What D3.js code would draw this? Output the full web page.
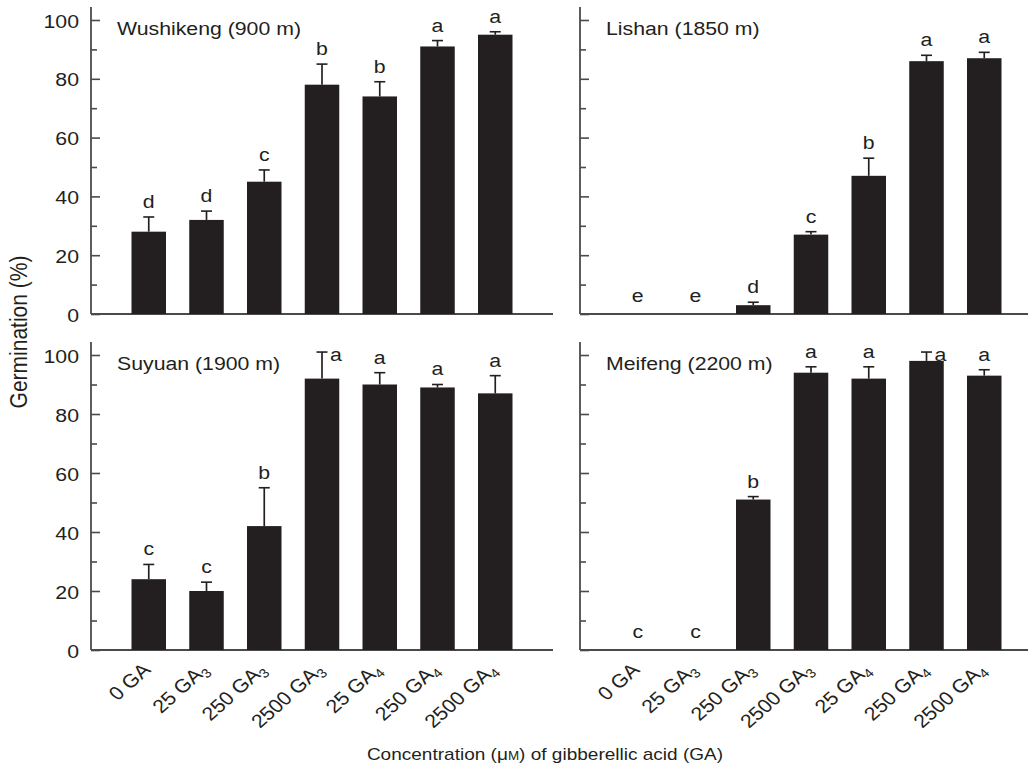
<!DOCTYPE html>
<html>
<head>
<meta charset="utf-8">
<script src="https://cdn.jsdelivr.net/npm/d3@7"></script>
<style>
  html, body { margin: 0; padding: 0; background: #fff; }
  svg { display: block; }
</style>
</head>
<body>
<div id="chart"></div>
<script>
// ---- Data -----------------------------------------------------------------
const doses = ["0", "25", "250", "2500", "25", "250", "2500"];
const gaSub = ["", "3", "3", "3", "4", "4", "4"];
const sites = ["Wushikeng (900 m)", "Lishan (1850 m)", "Suyuan (1900 m)", "Meifeng (2200 m)"];

const wushikengMean = [28, 32, 45, 78, 74, 91, 95];
const wushikengErr = [5, 3, 4, 7, 5, 2, 1];
const wushikengLetters = ["d", "d", "c", "b", "b", "a", "a"];

const lishanMean = [0, 0, 3, 27, 47, 86, 87];
const lishanErr = [0, 0, 1, 1, 6, 2, 2];
const lishanLetters = ["e", "e", "d", "c", "b", "a", "a"];

const suyuanMean = [24, 20, 42, 92, 90, 89, 87];
const suyuanErr = [5, 3, 13, 9, 4, 1, 6];
const suyuanLetters = ["c", "c", "b", "a", "a", "a", "a"];

const meifengMean = [0, 0, 51, 94, 92, 98, 93];
const meifengErr = [0, 0, 1, 2, 4, 3, 2];
const meifengLetters = ["c", "c", "b", "a", "a", "a", "a"];

const yTicks = [0, 20, 40, 60, 80, 100];

(function () {
  // The printed figure is stretched sideways; draw in narrower units and let
  // the viewBox widen everything (text included) by the same factor.
  const SX = 1.12;
  const W = 1028, H = 769, VW = W / SX;
  const px = (v) => v / SX; // screen x (px) -> drawing units
  const INK = "#231f20", AXIS = "#4a4a4a";
  const FONT = "'Liberation Sans', Arial, Helvetica, sans-serif";
  const FS = "19px";

  const svg = d3.select("#chart").append("svg")
    .attr("width", W).attr("height", H)
    .attr("viewBox", `0 0 ${VW} ${H}`)
    .attr("preserveAspectRatio", "none")
    .style("font-family", FONT);

  const axisLen = px(462);
  const panels = [
    { title: sites[0], mean: wushikengMean, err: wushikengErr, letters: wushikengLetters, x0: px(91), y0: 314, y1: 20, labels: true, xlab: false },
    { title: sites[1], mean: lishanMean, err: lishanErr, letters: lishanLetters, x0: px(580), y0: 314, y1: 20, labels: false, xlab: false },
    { title: sites[2], mean: suyuanMean, err: suyuanErr, letters: suyuanLetters, x0: px(91), y0: 650, y1: 355, labels: true, xlab: true },
    { title: sites[3], mean: meifengMean, err: meifengErr, letters: meifengLetters, x0: px(580), y0: 650, y1: 355, labels: false, xlab: true },
  ];

  panels.forEach((p) => {
    const g = svg.append("g");
    const x = d3.scaleLinear().domain([0, 8]).range([p.x0, p.x0 + axisLen]);
    const y = d3.scaleLinear().domain([0, 100]).range([p.y0, p.y1]);
    const barW = px(34.5);

    // ---- Axes ------------------------------------------------------------
    const yAxis = d3.axisRight(y)
      .tickValues(d3.range(0, 101, 10))
      .tickSize(0)
      .tickFormat("");
    const ya = g.append("g").attr("transform", `translate(${p.x0},0)`).call(yAxis);
    ya.select(".domain").remove();
    ya.selectAll(".tick line")
      .attr("x2", (d) => (d % 20 === 0 ? px(9) : px(6)))
      .attr("stroke", AXIS).attr("stroke-width", 1.6);
    g.append("line")
      .attr("x1", p.x0).attr("x2", p.x0)
      .attr("y1", p.y1 - 13).attr("y2", p.y0)
      .attr("stroke", AXIS).attr("stroke-width", 1.6);
    g.append("line")
      .attr("x1", p.x0).attr("x2", p.x0 + axisLen)
      .attr("y1", p.y0).attr("y2", p.y0)
      .attr("stroke", AXIS).attr("stroke-width", 2);

    if (p.labels) {
      g.selectAll("text.ytick").data(yTicks).join("text")
        .attr("class", "ytick")
        .attr("x", p.x0 - px(12)).attr("y", (d) => y(d) + 1)
        .attr("text-anchor", "end").attr("dominant-baseline", "central")
        .attr("fill", INK).style("font-size", FS)
        .text((d) => d);
    }

    // ---- Bars + upper error bars -----------------------------------------
    const idx = d3.range(p.mean.length);
    g.selectAll("rect.bar").data(idx).join("rect")
      .attr("class", "bar")
      .attr("x", (i) => x(i + 1) - barW / 2)
      .attr("width", barW)
      .attr("y", (i) => y(p.mean[i]))
      .attr("height", (i) => y(0) - y(p.mean[i]))
      .attr("fill", INK);

    const withErr = idx.filter((i) => p.err[i] > 0);
    g.selectAll("line.err").data(withErr).join("line")
      .attr("class", "err")
      .attr("x1", (i) => x(i + 1)).attr("x2", (i) => x(i + 1))
      .attr("y1", (i) => y(p.mean[i])).attr("y2", (i) => y(p.mean[i] + p.err[i]))
      .attr("stroke", INK).attr("stroke-width", 1.5);
    g.selectAll("line.cap").data(withErr).join("line")
      .attr("class", "cap")
      .attr("x1", (i) => x(i + 1) - px(5.5)).attr("x2", (i) => x(i + 1) + px(5.5))
      .attr("y1", (i) => y(p.mean[i] + p.err[i])).attr("y2", (i) => y(p.mean[i] + p.err[i]))
      .attr("stroke", INK).attr("stroke-width", 1.6);

    // ---- Significance letters (beside the cap when the bar reaches the top)
    g.selectAll("text.sig").data(idx).join("text")
      .attr("class", "sig")
      .each(function (i) {
        const top = p.mean[i] + p.err[i];
        const side = top > 99;
        d3.select(this)
          .attr("x", side ? x(i + 1) + px(8) : x(i + 1))
          .attr("y", side ? y(top) + 9 : y(top) - (top === 0 ? 12 : 9))
          .attr("text-anchor", side ? "start" : "middle");
      })
      .attr("fill", INK).style("font-size", FS)
      .text((i) => p.letters[i]);

    // ---- Panel title ------------------------------------------------------
    g.append("text")
      .attr("x", p.x0 + px(26)).attr("y", p.y1 + 15)
      .attr("fill", INK).style("font-size", FS)
      .text(p.title);

    // ---- Rotated treatment labels ----------------------------------------
    if (p.xlab) {
      const lab = g.selectAll("text.xlab").data(idx).join("text")
        .attr("class", "xlab")
        .attr("transform", (i) => `translate(${x(i + 1) + px(3)},${p.y0 + 21}) rotate(-45)`)
        .attr("text-anchor", "end")
        .attr("fill", INK).style("font-size", FS);
      lab.append("tspan").text((i) => doses[i] + " GA");
      lab.filter((i) => gaSub[i]).append("tspan")
        .attr("dy", 4).style("font-size", "13px")
        .text((i) => gaSub[i]);
    }
  });

  // ---- Shared axis titles ----------------------------------------------------
  svg.append("text")
    .attr("transform", `translate(${px(27)},332) rotate(-90)`)
    .attr("text-anchor", "middle")
    .attr("fill", INK).style("font-size", "21px")
    .text("Germination (%)");

  const xt = svg.append("text")
    .attr("x", px(545)).attr("y", 760)
    .attr("text-anchor", "middle")
    .attr("fill", INK).style("font-size", "17px");
  xt.append("tspan").text("Concentration (\u03bc");
  xt.append("tspan").style("font-size", "12px").text("M");
  xt.append("tspan").text(") of gibberellic acid (GA)");
})();
</script>
</body>
</html>
